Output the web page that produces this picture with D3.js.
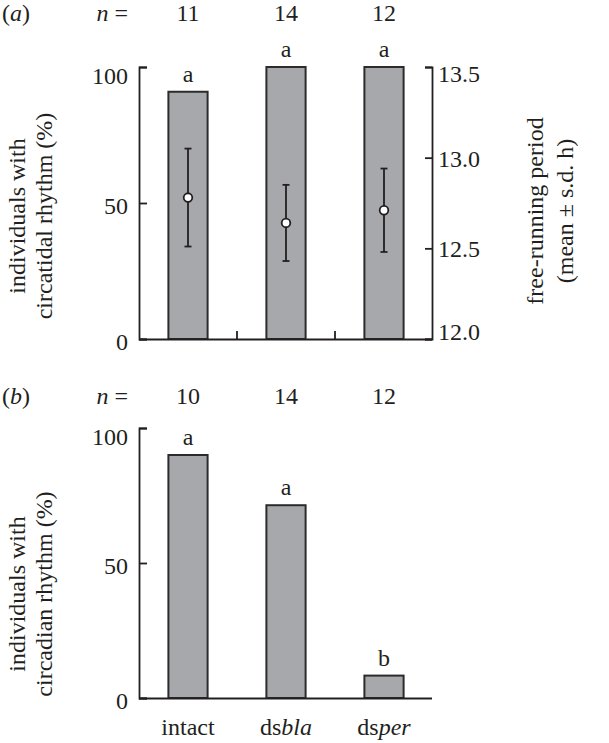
<!DOCTYPE html>
<html lang="en">
<head>
<meta charset="UTF-8">
<title>rhythm after RNAi</title>
<script src="https://cdn.jsdelivr.net/npm/d3@7"></script>
</head>
<body style="margin:0; background:#fff">
<svg id="chart" width="609" height="743"></svg>
<script>
    /* global d3 */

    var groups = ["intact", "dsbla", "dsper"];
    var groupRoman = ["intact", "ds", "ds"];
    var groupItalic = ["", "bla", "per"];

    // (a) circatidal
    var nA = [11, 14, 12];
    var rhythmA = [90.9, 100, 100];
    var lettersA = ["a", "a", "a"];
    var periodMean = [12.78, 12.64, 12.71];
    var periodSD = [0.27, 0.21, 0.23];

    // (b) circadian
    var nB = [10, 14, 12];
    var rhythmB = [90, 71.4, 8.3];
    var lettersB = ["a", "a", "b"];

    var pctTicks = [0, 50, 100];
    var periodTicks = [12.0, 12.5, 13.0, 13.5];

    var ink = "#231f20",
        barFill = "#a7a8ac",
        left = 139,
        right = 432;

    var svg = d3.select("#chart");

    var x = d3.scaleBand().domain(groups).range([left, 433])
            .paddingInner(0.6).paddingOuter(0.3),
        bw = x.bandwidth(),
        yA = d3.scaleLinear().domain([0, 100]).range([339, 67]),
        yP = d3.scaleLinear().domain([12, 13.5]).range([339, 67]),
        yB = d3.scaleLinear().domain([0, 100]).range([698, 428]);

    function cx(g) { return x(g) + bw / 2; }

    function styleAxis(g) {
        g.attr("font-size", null).attr("font-family", null);
        g.select(".domain").attr("stroke", ink).attr("stroke-width", 1.8);
        g.selectAll(".tick line").attr("stroke", ink).attr("stroke-width", 1.8);
    }

    function pctAxis(y) {
        var g = svg.append("g")
            .attr("transform", "translate(" + left + ",0)")
            .call(d3.axisLeft(y).tickValues(pctTicks)
                .tickSize(-8).tickSizeOuter(-8).tickPadding(11));
        styleAxis(g);
        g.selectAll(".tick text").attr("dy", function (d) {
            return d === 100 ? "0.7em" : "0.45em";
        });
    }

    function bars(y, vals) {
        svg.append("g").selectAll("rect")
            .data(groups)
            .enter().append("rect")
            .attr("x", function (g) { return x(g); })
            .attr("width", bw)
            .attr("y", function (g, i) { return y(vals[i]); })
            .attr("height", function (g, i) { return y(0) - y(vals[i]); })
            .attr("fill", barFill)
            .attr("stroke", "#2b2b2b")
            .attr("stroke-width", 2);
    }

    function letters(y, vals, lab) {
        svg.append("g").selectAll("text")
            .data(groups)
            .enter().append("text")
            .attr("x", cx)
            .attr("y", function (g, i) { return y(vals[i]) - 10; })
            .attr("text-anchor", "middle")
            .text(function (g, i) { return lab[i]; });
    }

    function nRow(yBase, ns, panel) {
        var p = svg.append("text").attr("x", 2).attr("y", yBase);
        p.append("tspan").text("(");
        p.append("tspan").attr("class", "it").text(panel);
        p.append("tspan").text(")");

        var t = svg.append("text").attr("x", 128).attr("y", yBase).attr("text-anchor", "end");
        t.append("tspan").attr("class", "it").text("n");
        t.append("tspan").text(" =");

        svg.append("g").selectAll("text")
            .data(groups)
            .enter().append("text")
            .attr("x", cx)
            .attr("y", yBase)
            .attr("text-anchor", "middle")
            .text(function (g, i) { return ns[i]; });
    }

    function vLabel(lines, xs, yc) {
        lines.forEach(function (s, i) {
            svg.append("text")
                .attr("transform", "translate(" + xs[i] + "," + yc + ") rotate(-90)")
                .attr("text-anchor", "middle")
                .text(s);
        });
    }

    // ---- panel (a)
    bars(yA, rhythmA);

    svg.append("line")
        .attr("x1", left).attr("x2", right)
        .attr("y1", yA(0) + 0.5).attr("y2", yA(0) + 0.5)
        .attr("stroke", ink).attr("stroke-width", 1.8);

    // category separators on the baseline
    svg.append("g").selectAll("line")
        .data(groups.slice(0, -1))
        .enter().append("line")
        .attr("x1", function (g, i) { return (x(g) + bw + x(groups[i + 1])) / 2; })
        .attr("x2", function (g, i) { return (x(g) + bw + x(groups[i + 1])) / 2; })
        .attr("y1", yA(0)).attr("y2", yA(0) - 8)
        .attr("stroke", ink).attr("stroke-width", 1.8);

    pctAxis(yA);

    var ra = svg.append("g")
        .attr("transform", "translate(" + right + ",0)")
        .call(d3.axisRight(yP).tickValues(periodTicks)
            .tickSize(-7).tickSizeOuter(-7).tickPadding(6)
            .tickFormat(d3.format(".1f")));
    styleAxis(ra);
    ra.selectAll(".tick text").attr("dy", function (d) {
        if (d === 13.5) return "0.6em";
        if (d === 12.0) return "0.04em";
        return "0.36em";
    });

    // period mean ± s.d.
    var eb = svg.append("g").selectAll("g")
        .data(groups)
        .enter().append("g")
        .attr("stroke", ink).attr("stroke-width", 1.8);
    eb.append("line")
        .attr("x1", cx).attr("x2", cx)
        .attr("y1", function (g, i) { return yP(periodMean[i] - periodSD[i]); })
        .attr("y2", function (g, i) { return yP(periodMean[i] + periodSD[i]); });
    [-1, 1].forEach(function (s) {
        eb.append("line")
            .attr("x1", function (g) { return cx(g) - 3.5; })
            .attr("x2", function (g) { return cx(g) + 3.5; })
            .attr("y1", function (g, i) { return yP(periodMean[i] + s * periodSD[i]); })
            .attr("y2", function (g, i) { return yP(periodMean[i] + s * periodSD[i]); });
    });
    eb.append("circle")
        .attr("cx", cx)
        .attr("cy", function (g, i) { return yP(periodMean[i]); })
        .attr("r", 4.3)
        .attr("fill", "#fff");

    letters(yA, rhythmA, lettersA);
    nRow(21, nA, "a");
    vLabel(["individuals with", "circatidal rhythm (%)"], [25, 52], 216);
    vLabel(["free-running period", "(mean \u00b1 s.d. h)"], [543, 573], 211);

    // ---- panel (b)
    bars(yB, rhythmB);

    svg.append("line")
        .attr("x1", left).attr("x2", right)
        .attr("y1", yB(0) + 0.5).attr("y2", yB(0) + 0.5)
        .attr("stroke", ink).attr("stroke-width", 1.8);

    pctAxis(yB);
    letters(yB, rhythmB, lettersB);
    nRow(404, nB, "b");
    vLabel(["individuals with", "circadian rhythm (%)"], [25, 52], 594);

    var xl = svg.append("g").selectAll("text")
        .data(groups)
        .enter().append("text")
        .attr("x", cx)
        .attr("y", 735)
        .attr("text-anchor", "middle");
    xl.append("tspan").text(function (g, i) { return groupRoman[i]; });
    xl.append("tspan").attr("class", "it").text(function (g, i) { return groupItalic[i]; });

    // fonts go straight onto every text node
    svg.selectAll("text, tspan")
        .style("font-family", "'Liberation Serif', 'Times New Roman', Times")
        .style("font-size", "24px")
        .style("fill", ink);
    svg.selectAll("tspan.it").style("font-style", "italic");
</script>
</body>
</html>
